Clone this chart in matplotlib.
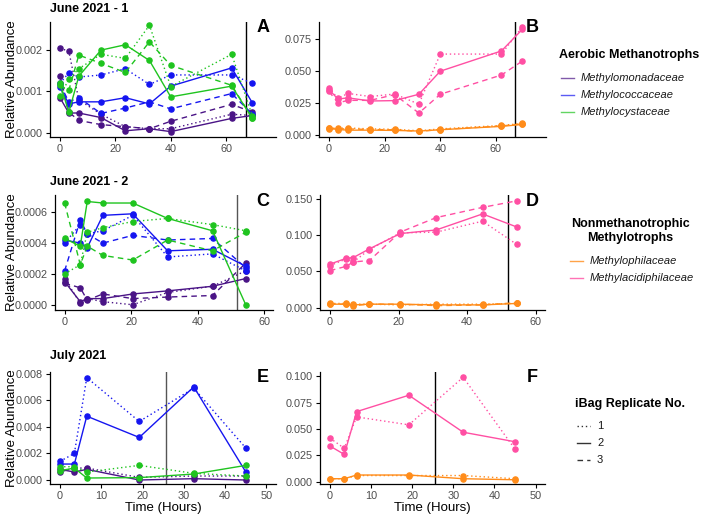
import matplotlib
matplotlib.use("Agg")
import matplotlib.pyplot as plt
from matplotlib.lines import Line2D
from matplotlib.ticker import FormatStrFormatter

plt.rcParams['font.family'] = ['Liberation Sans', 'DejaVu Sans']

# ---------------- data ----------------
# sampling times (hours)
time_jun1 = [0, 3.2, 6.8, 14.8, 23.6, 32.3, 40.0, 62.0, 69.5]
time_jun2 = [0, 4.7, 6.8, 11.5, 20.5, 31.0, 44.5, 54.5]
time_jul = [0, 3.5, 6.5, 19.2, 32.4, 45.0]

# time of the vertical marker line per campaign
vline_jun1 = 67.0
vline_jun2 = 52.0
vline_jul = 25.6

# replicate rows: [rep 1, rep 2, rep 3]
jun1_methylomonadaceae = [
    [0.00205, 0.00197, 0.0008, 0.00045, 0.00015, 0.0001, 0.0001, 0.00045, 0.00042],
    [0.00085, 0.00048, 0.00048, 0.00037, 0.00005, 0.0001, 0.00003, 0.00035, 0.00042],
    [0.00138, 0.0005, 0.0003, 0.0002, 0.00015, 0.0001, 0.00028, 0.00069, 0.0005],
]
jun1_methylococcaceae = [
    [0.0012, 0.00145, 0.00135, 0.0014, 0.00155, 0.00117, 0.0014, 0.0014, 0.0012],
    [0.0011, 0.0007, 0.00075, 0.00075, 0.00085, 0.0007, 0.00113, 0.00157, 0.00072],
    [0.00118, 0.00075, 0.00085, 0.00047, 0.0006, 0.00075, 0.00058, 0.00095, 0.00045],
]
jun1_methylocystaceae = [
    [0.00088, 0.0013, 0.00155, 0.0019, 0.0018, 0.0026, 0.00112, 0.0019, 0.0004],
    [0.0012, 0.0005, 0.00137, 0.002, 0.00213, 0.00175, 0.00087, 0.00113, 0.00035],
    [0.00115, 0.00103, 0.00188, 0.00168, 0.00146, 0.0022, 0.00163, 0.00115, 0.00035],
]
jun1_methylophilaceae = [
    [0.0052, 0.005, 0.0052, 0.0045, 0.0042, 0.003, 0.0045, 0.0072, 0.0088],
    [0.005, 0.004, 0.0035, 0.0035, 0.0033, 0.0028, 0.0038, 0.0065, 0.008],
    [0.0048, 0.0045, 0.0045, 0.004, 0.0038, 0.0025, 0.004, 0.0068, 0.0085],
]
jun1_methylacidiphilaceae = [
    [0.037, 0.0285, 0.0325, 0.030, 0.032, 0.024, 0.0635, 0.0635, 0.085],
    [0.0355, 0.028, 0.029, 0.0265, 0.0268, 0.0318, 0.050, 0.066, 0.083],
    [0.034, 0.025, 0.027, 0.027, 0.0315, 0.017, 0.0318, 0.047, 0.058],
]

jun2_methylomonadaceae = [
    [0.00017, 0.00001, 0.00004, 0.00002, 0.0, 0.00008, 0.00012, 0.00022],
    [0.00015, 0.00002, 0.00004, 0.00004, 0.00007, 0.00009, 0.00012, 0.00017],
    [0.00014, 0.00011, 0.00003, 0.00007, 0.00004, 0.00005, 0.00006, 0.00027],
]
jun2_methylococcaceae = [
    [0.0004, 0.00052, 0.00046, 0.00048, 0.00058, 0.00031, 0.00033, 0.00022],
    [0.00042, 0.0004, 0.00037, 0.00058, 0.00059, 0.00035, 0.00036, 0.00025],
    [0.00022, 0.00055, 0.00046, 0.0004, 0.00045, 0.00042, 0.00043, 0.00024],
]
jun2_methylocystaceae = [
    [0.0002, 0.00026, 0.00047, 0.0005, 0.00054, 0.00056, 0.00052, 0.00048],
    [0.00043, 0.00038, 0.00067, 0.00066, 0.00066, 0.00056, 0.00048, 0.0],
    [0.00066, 0.00026, 0.00038, 0.00032, 0.00029, 0.00042, 0.00035, 0.00047],
]
jun2_methylophilaceae = [
    [0.006, 0.006, 0.005, 0.005, 0.004, 0.005, 0.005, 0.006],
    [0.005, 0.005, 0.004, 0.005, 0.005, 0.004, 0.004, 0.006],
    [0.005, 0.005, 0.003, 0.005, 0.005, 0.003, 0.004, 0.007],
]
jun2_methylacidiphilaceae = [
    [0.058, 0.067, 0.063, 0.080, 0.103, 0.104, 0.119, 0.087],
    [0.060, 0.068, 0.069, 0.081, 0.102, 0.107, 0.129, 0.111],
    [0.051, 0.057, 0.063, 0.065, 0.104, 0.124, 0.138, 0.147],
]

jul_methylomonadaceae = [
    [0.0006, 0.0009, 0.0009, 0.0002, 0.0003, 0.0003],
    [0.0008, 0.0006, 0.0008, 0.0, 0.0001, 0.0],
]
jul_methylococcaceae = [
    [0.0014, 0.002, 0.0077, 0.0044, 0.0069, 0.0024],
    [0.0012, 0.0012, 0.0048, 0.0032, 0.007, 0.0006],
]
jul_methylocystaceae = [
    [0.001, 0.001, 0.0006, 0.0011, 0.0005, 0.0003],
    [0.0007, 0.0009, 0.00015, 0.00018, 0.00045, 0.0011],
]
jul_methylophilaceae = [
    [0.003, 0.003, 0.006, 0.006, 0.006, 0.003],
    [0.003, 0.003, 0.0065, 0.0065, 0.003, 0.002],
]
jul_methylacidiphilaceae = [
    [0.0415, 0.0318, 0.0615, 0.054, 0.099, 0.031],
    [0.034, 0.026, 0.0665, 0.082, 0.047, 0.038],
]

aerobic_names = ["Methylomonadaceae", "Methylococcaceae", "Methylocystaceae"]
nonmeth_names = ["Methylophilaceae", "Methylacidiphilaceae"]
replicates = ["1", "2", "3"]

# ---------------- styles ----------------
colors = {
    "Methylomonadaceae": "#4a1486",
    "Methylococcaceae": "#1515f0",
    "Methylocystaceae": "#1fc41f",
    "Methylophilaceae": "#ff8c1a",
    "Methylacidiphilaceae": "#ff4fa3",
}
rep_styles = [(0, (1, 2)), "-", (0, (4, 3))]
tick_grey = "#4d4d4d"

W, H = 708, 518
fig = plt.figure(figsize=(W / 100, H / 100), dpi=100)


def px_axes(x0, y0, x1, y1):
    # axes from pixel box (top-left origin)
    return fig.add_axes([x0 / W, 1 - y1 / H, (x1 - x0) / W, (y1 - y0) / H])


def style_axes(ax, xlim, ylim, xticks, yticks, yfmt, xlabel=False, ylabel=False):
    ax.set_xlim(*xlim)
    ax.set_ylim(*ylim)
    ax.set_xticks(xticks)
    ax.set_yticks(yticks)
    ax.yaxis.set_major_formatter(FormatStrFormatter(yfmt))
    for s in ["top", "right"]:
        ax.spines[s].set_visible(False)
    for s in ["left", "bottom"]:
        ax.spines[s].set_linewidth(0.9)
    ax.tick_params(direction="out", length=3, width=0.8, labelsize=7.8,
                   labelcolor=tick_grey, pad=2)
    if ylabel:
        ax.set_ylabel("Relative Abundance", fontsize=9.5)
        # label baseline side at pixel x = 18
        x0 = ax.get_position().x0 * W
        ax.yaxis.set_label_coords(-(x0 - 18) / (ax.get_position().width * W), 0.5)
    if xlabel:
        ax.set_xlabel("Time (Hours)", fontsize=9.5, labelpad=1)


def draw_panel(ax, times, series, names, vline, vcolor):
    for name, rows in zip(names, series):
        for r, vals in enumerate(rows):
            ax.plot(times, vals, color=colors[name], linestyle=rep_styles[r],
                    linewidth=1.0, marker="o", markersize=3.7, zorder=3)
    ax.axvline(vline, color=vcolor, linewidth=1.0, zorder=2)


# ---------------- panels ----------------
axA = px_axes(50, 22, 276, 137)
draw_panel(axA, time_jun1,
           [jun1_methylomonadaceae, jun1_methylococcaceae, jun1_methylocystaceae],
           aerobic_names, vline_jun1, "black")
style_axes(axA, (-3.6, 78), (-0.0001, 0.00268), [0, 20, 40, 60],
           [0, 0.001, 0.002], "%.3f", ylabel=True)

axB = px_axes(319, 22, 546, 137)
draw_panel(axB, time_jun1, [jun1_methylophilaceae, jun1_methylacidiphilaceae],
           nonmeth_names, vline_jun1, "black")
style_axes(axB, (-3.6, 78), (-0.0019, 0.0888), [0, 20, 40, 60],
           [0, 0.025, 0.05, 0.075], "%.3f")

axC = px_axes(55, 195, 273, 310)
draw_panel(axC, time_jun2,
           [jun2_methylomonadaceae, jun2_methylococcaceae, jun2_methylocystaceae],
           aerobic_names, vline_jun2, "#555555")
style_axes(axC, (-2.9, 62.7), (-0.000034, 0.000712), [0, 20, 40, 60],
           [0, 0.0002, 0.0004, 0.0006], "%.4f", ylabel=True)

axD = px_axes(320, 195, 545, 310)
draw_panel(axD, time_jun2, [jun2_methylophilaceae, jun2_methylacidiphilaceae],
           nonmeth_names, vline_jun2, "black")
style_axes(axD, (-2.9, 62.7), (-0.003, 0.155), [0, 20, 40, 60],
           [0, 0.05, 0.1, 0.15], "%.3f")

axE = px_axes(50, 372, 276, 484)
draw_panel(axE, time_jul,
           [jul_methylomonadaceae, jul_methylococcaceae, jul_methylocystaceae],
           aerobic_names, vline_jul, "#555555")
style_axes(axE, (-2.4, 52.3), (-0.0003, 0.00812), [0, 10, 20, 30, 40, 50],
           [0, 0.002, 0.004, 0.006, 0.008], "%.3f", xlabel=True, ylabel=True)

axF = px_axes(320, 372, 545, 484)
draw_panel(axF, time_jul, [jul_methylophilaceae, jul_methylacidiphilaceae],
           nonmeth_names, vline_jul, "black")
style_axes(axF, (-2.4, 52.3), (-0.002, 0.104), [0, 10, 20, 30, 40, 50],
           [0, 0.025, 0.05, 0.075, 0.1], "%.3f", xlabel=True)

# row titles and panel letters
for txt, y in [("June 2021 - 1", 9), ("June 2021 - 2", 182), ("July 2021", 356)]:
    fig.text(50 / W, 1 - y / H, txt, fontsize=9, fontweight="bold",
             ha="left", va="center")
for txt, x, y in [("A", 263, 27), ("B", 532, 27), ("C", 263, 201),
                  ("D", 532, 201), ("E", 263, 378), ("F", 532, 378)]:
    fig.text(x / W, 1 - y / H, txt, fontsize=13, fontweight="bold",
             ha="center", va="center")

# ---------------- legends ----------------
def legend_block(title, tx, ty, items, lx, ly0, dy, italic=True, ha="left"):
    fig.text(tx / W, 1 - ty / H, title, fontsize=9, fontweight="bold",
             ha=ha, va="center", linespacing=1.15)
    for i, (label, col, ls, alpha) in enumerate(items):
        y = 1 - (ly0 + i * dy) / H
        fig.add_artist(Line2D([lx / W, (lx + 13) / W], [y, y], color=col,
                              linestyle=ls, linewidth=1.0, alpha=alpha))
        fig.text((lx + 20) / W, y, label, fontsize=8,
                 style="italic" if italic else "normal",
                 color="#1a1a1a", ha="left", va="center")


legend_block("Aerobic Methanotrophs", 559, 55,
             [(n, colors[n], "-", 0.7) for n in aerobic_names],
             561, 78, 17)
legend_block("Nonmethanotrophic\nMethylotrophs", 630, 231,
             [(n, colors[n], "-", 0.8) for n in nonmeth_names],
             570, 261, 16.7, ha="center")
legend_block("iBag Replicate No.", 575, 404,
             [(r, "#333333", ls, 1.0) for r, ls in zip(replicates, rep_styles)],
             577, 426, 17, italic=False)

fig.savefig("out.png", dpi=100)
